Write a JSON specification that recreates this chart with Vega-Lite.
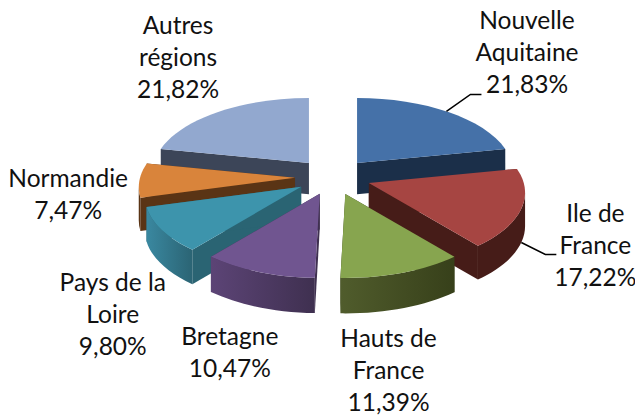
{
"$schema":"https://vega.github.io/schema/vega-lite/v6.json",
"width":635,"height":416,"padding":0,"autosize":{"type":"none"},"background":"#ffffff",
"config":{"view":{"stroke":null}},
"resolve":{"scale":{"color":"independent"}},
"data":{"values":[
{"region":"Nouvelle\nAquitaine","share":21.83},
{"region":"Ile de\nFrance","share":17.22},
{"region":"Hauts de\nFrance","share":11.39},
{"region":"Bretagne","share":10.47},
{"region":"Pays de la\nLoire","share":9.80},
{"region":"Normandie","share":7.47},
{"region":"Autres\nrégions","share":21.82}
]},
"transform":[
{"window":[{"op":"sum","field":"share","as":"cum"},{"op":"row_number","as":"i"}]},
{"calculate":"(datum.cum-datum.share)/100*2*PI","as":"a"},
{"calculate":"datum.cum/100*2*PI","as":"b"},
{"calculate":"(datum.a+datum.b)/2","as":"m"},
{"calculate":"-cos(datum.m)","as":"depth"},
{"calculate":"333+38*sin(datum.m)","as":"ax"},
{"calculate":"177-18*cos(datum.m)","as":"ay"},
{"calculate":"round(10*(33-2.5*cos(datum.m)))/10","as":"h"},
{"calculate":"max(datum.a,1.698)","as":"ta"},
{"calculate":"min(datum.b,4.585)","as":"tb"},
{"calculate":"round(100*155*sin(datum.a)/(1+0.127*cos(datum.a)))/100","as":"xa"},
{"calculate":"round(-100*73.3*cos(datum.a)/(1+0.127*cos(datum.a)))/100","as":"ya"},
{"calculate":"round(100*155*sin(datum.b)/(1+0.127*cos(datum.b)))/100","as":"xb"},
{"calculate":"round(-100*73.3*cos(datum.b)/(1+0.127*cos(datum.b)))/100","as":"yb"},
{"calculate":"round(100*155*sin(datum.ta)/(1+0.127*cos(datum.ta)))/100","as":"xta"},
{"calculate":"round(-100*73.3*cos(datum.ta)/(1+0.127*cos(datum.ta)))/100","as":"yta"},
{"calculate":"round(100*155*sin(datum.tb)/(1+0.127*cos(datum.tb)))/100","as":"xtb"},
{"calculate":"round(-100*73.3*cos(datum.tb)/(1+0.127*cos(datum.tb)))/100","as":"ytb"},
{"calculate":"'M0,0L'+datum.xa+','+datum.ya+'A156.3,74.5,0,0,1,'+datum.xb+','+datum.yb+'Z'","as":"topPath"},
{"calculate":"'M0,0L'+datum.xa+','+datum.ya+'L'+datum.xa+','+(datum.ya+datum.h)+'L0,'+datum.h+'Z'","as":"quadA"},
{"calculate":"'M0,0L'+datum.xb+','+datum.yb+'L'+datum.xb+','+(datum.yb+datum.h)+'L0,'+datum.h+'Z'","as":"quadB"},
{"calculate":"'M'+datum.xta+','+datum.yta+'A156.3,74.5,0,0,1,'+datum.xtb+','+datum.ytb+'L'+datum.xtb+','+(datum.ytb+datum.h)+'A156.3,74.5,0,0,0,'+datum.xta+','+(datum.yta+datum.h)+'Z'","as":"wallPath"},
{"calculate":"round(100*155*sin(datum.m)/(1+0.127*cos(datum.m)))/100","as":"xm"},
{"calculate":"round(100*(-73.3*cos(datum.m)/(1+0.127*cos(datum.m))+(cos(datum.m)<0?datum.h:0)))/100","as":"ym"},
{"calculate":"cos(datum.m)<0?12:-17","as":"ld"},
{"calculate":"'M'+datum.xm+','+datum.ym+'L'+(datum.xm+24)+','+(datum.ym+datum.ld)+'L'+(datum.xm+35)+','+(datum.ym+datum.ld)","as":"leaderPath"},
{"calculate":"datum.region+'\\n'+replace(format(datum.share,'.2f'),'.',',')+'%'","as":"label"},
{"calculate":"length(split(datum.label,'\\n'))","as":"n"},
{"calculate":"330+270*sin(datum.m)+[26,11,-29,-6,9,8,19][datum.i-1]","as":"lx"},
{"calculate":"190-170*cos(datum.m)+[-4,0,21,5,33,0,1][datum.i-1]-(datum.n-1)*16","as":"ly"}
],
"encoding":{"x":{"field":"ax","type":"quantitative","scale":null,"axis":null},"y":{"field":"ay","type":"quantitative","scale":null,"axis":null}},
"layer":[
{"mark":{"type":"point","filled":true,"size":4,"opacity":1},
 "encoding":{"order":{"field":"depth","type":"quantitative"},
  "shape":{"field":"quadA","type":"nominal","scale":null,"legend":null},
  "color":{"field":"region","type":"nominal","legend":null,"scale":{"domain":["Nouvelle\nAquitaine","Ile de\nFrance","Hauts de\nFrance","Bretagne","Pays de la\nLoire","Normandie","Autres\nrégions"],"range":["#1b2f49","#461c18","#37401a","#3f3050","#2a6473","#5a3415","#3c4558"]}}}},
{"mark":{"type":"point","filled":true,"size":4,"opacity":1},
 "encoding":{"order":{"field":"depth","type":"quantitative"},
  "shape":{"field":"quadB","type":"nominal","scale":null,"legend":null},
  "color":{"field":"region","type":"nominal","legend":null,"scale":{"domain":["Nouvelle\nAquitaine","Ile de\nFrance","Hauts de\nFrance","Bretagne","Pays de la\nLoire","Normandie","Autres\nrégions"],"range":["#1b2f49","#461c18","#37401a","#3f3050","#2a6473","#5a3415","#3c4558"]}}}},
{"transform":[{"filter":"datum.ta<datum.tb && (datum.i==2 || datum.i==6)"}],
 "mark":{"type":"point","filled":true,"size":4,"opacity":1},
 "encoding":{
  "shape":{"field":"wallPath","type":"nominal","scale":null,"legend":null},
  "color":{"field":"region","type":"nominal","legend":null,"scale":{"domain":["Ile de\nFrance","Normandie"],"range":["#461c18","#5a3415"]}}}},
{"transform":[{"filter":"datum.i==3"}],
 "mark":{"type":"point","filled":true,"size":4,"opacity":1,"fill":{"gradient":"linear","x1":0,"y1":0,"x2":1,"y2":0,"stops":[{"offset":0,"color":"#505c2c"},{"offset":1,"color":"#37401a"}]}},
 "encoding":{"shape":{"field":"wallPath","type":"nominal","scale":null,"legend":null}}},
{"transform":[{"filter":"datum.i==4"}],
 "mark":{"type":"point","filled":true,"size":4,"opacity":1,"fill":{"gradient":"linear","x1":0,"y1":0,"x2":1,"y2":0,"stops":[{"offset":0,"color":"#5c4476"},{"offset":1,"color":"#3f3050"}]}},
 "encoding":{"shape":{"field":"wallPath","type":"nominal","scale":null,"legend":null}}},
{"transform":[{"filter":"datum.i==5"}],
 "mark":{"type":"point","filled":true,"size":4,"opacity":1,"fill":{"gradient":"linear","x1":0,"y1":0,"x2":1,"y2":0,"stops":[{"offset":0,"color":"#3a88a0"},{"offset":1,"color":"#2b6474"}]}},
 "encoding":{"shape":{"field":"wallPath","type":"nominal","scale":null,"legend":null}}},
{"mark":{"type":"point","filled":true,"size":4,"opacity":1},
 "encoding":{
  "shape":{"field":"topPath","type":"nominal","scale":null,"legend":null},
  "color":{"field":"region","type":"nominal","legend":null,"scale":{"domain":["Nouvelle\nAquitaine","Ile de\nFrance","Hauts de\nFrance","Bretagne","Pays de la\nLoire","Normandie","Autres\nrégions"],"range":["#4571a8","#a64542","#87a54f","#705590","#3d94ac","#d9843b","#92a8cf"]}}}},
{"transform":[{"filter":"datum.i<=2"}],
 "mark":{"type":"point","filled":false,"size":4,"opacity":1,"stroke":"#000000","strokeWidth":1.5},
 "encoding":{
  "shape":{"field":"leaderPath","type":"nominal","scale":null,"legend":null}}},
{"mark":{"type":"text","font":"Lato","fontSize":24.5,"lineHeight":32,"lineBreak":"\n","align":"center","baseline":"middle","color":"#111111"},
 "encoding":{"x":{"field":"lx","type":"quantitative","scale":null,"axis":null},"y":{"field":"ly","type":"quantitative","scale":null,"axis":null},
  "text":{"field":"label","type":"nominal"}}}
]
}
